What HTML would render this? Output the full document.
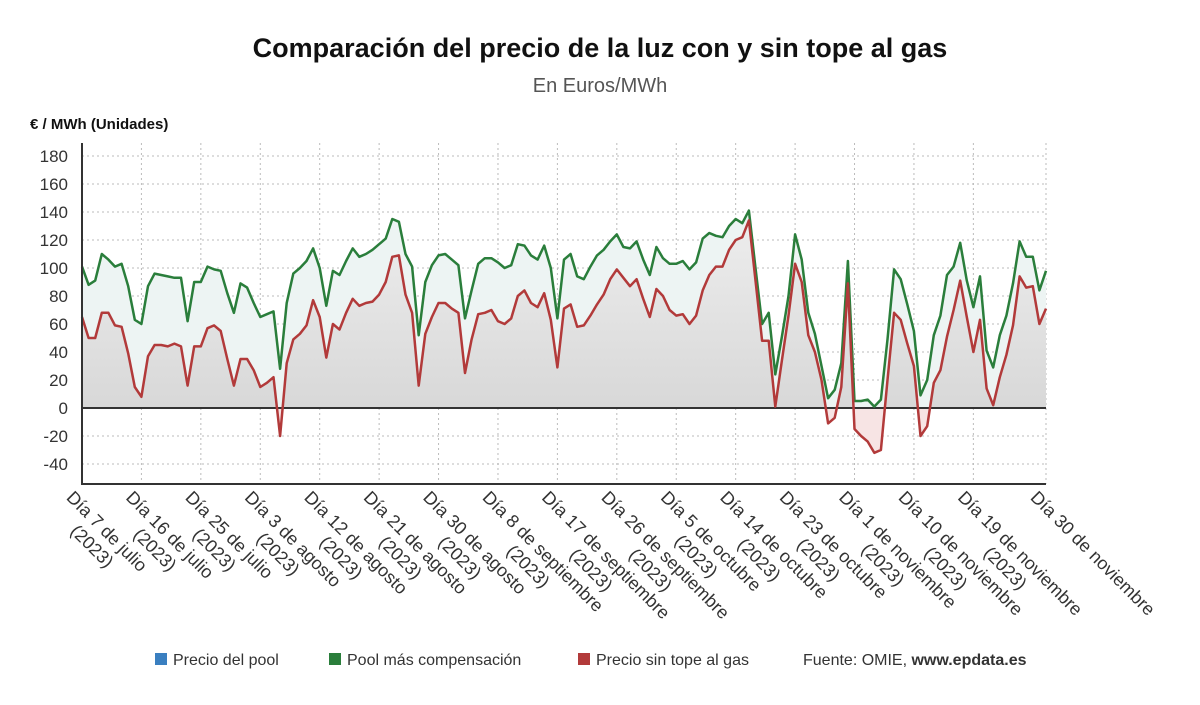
<!DOCTYPE html>
<html><head><meta charset="utf-8">
<style>
body{margin:0;background:#fff;font-family:"Liberation Sans",sans-serif;}
svg{display:block}
</style></head>
<body>
<svg id="chart" width="1200" height="705" xmlns="http://www.w3.org/2000/svg">
<defs>
<linearGradient id="gg" gradientUnits="userSpaceOnUse" x1="0" y1="156" x2="0" y2="408">
<stop offset="0" stop-color="#f4f4f4"/><stop offset="1" stop-color="#d8d8d8"/></linearGradient>
<clipPath id="neg"><rect x="82" y="408" width="970" height="80"/></clipPath>
<clipPath id="pos"><rect x="82" y="100" width="970" height="308"/></clipPath>
</defs>
<text x="600" y="57" text-anchor="middle" font-size="27" font-weight="bold" fill="#111">Comparación del precio de la luz con y sin tope al gas</text>
<text x="600" y="92" text-anchor="middle" font-size="20" fill="#555">En Euros/MWh</text>
<text x="30" y="129" font-size="15" font-weight="bold" fill="#111">€ / MWh (Unidades)</text>
<g id="grid"></g>
<g id="areas"></g>
<g id="lines"></g>
<g id="axes"></g>
<g id="xlabels"></g>
<g font-size="16" fill="#333">
<rect x="155" y="653" width="12" height="12" fill="#3a7fc0"/>
<text x="173" y="665">Precio del pool</text>
<rect x="329" y="653" width="12" height="12" fill="#2a7e3b"/>
<text x="347" y="665">Pool más compensación</text>
<rect x="578" y="653" width="12" height="12" fill="#b23a3a"/>
<text x="596" y="665">Precio sin tope al gas</text>
<text x="803" y="665">Fuente: OMIE, <tspan font-weight="bold">www.epdata.es</tspan></text>
</g>
</svg>
<script>
const greenValues=[101,88,91,110,106,101,103,87,63,60,87,96,95,94,93,93,62,90,90,101,99,98,82,68,89,86,75,65,67,69,28,75,96,100,105,114,100,
73,98,95,105,114,108,110,113,117,121,135,133,110,101,52,90,102,109,110,106,102,64,84,103,107,107,104,100,102,117,116,109,106,116,100,64,
106,110,94,92,101,109,113,119,124,115,114,119,106,95,115,107,103,103,105,99,104,121,125,123,122,130,135,132,141,100,60,68,24,51,80,124,106,68,
53,30,7,13,32,105,5,5,6,1,6,49,99,92,74,55,9,20,52,66,95,101,118,91,72,94,41,29,52,66,89,119,108,108,84,98];
const redValues=[65,50,50,68,68,59,58,39,15,8,37,45,45,44,46,44,16,44,44,57,59,55,35,16,35,35,27,15,18,22,-20,32,49,53,59,77,65,
36,60,56,68,78,73,75,76,81,90,108,109,81,68,16,53,65,75,75,71,68,25,49,67,68,70,62,60,64,80,84,75,72,82,63,29,
71,74,58,59,66,74,81,92,99,93,87,92,78,65,85,80,70,66,67,60,66,84,95,101,101,113,120,122,134,91,48,48,1,34,66,103,90,52,
40,20,-11,-7,15,89,-15,-20,-24,-32,-30,20,68,63,46,30,-20,-13,18,27,51,70,91,65,40,63,14,2,22,38,59,94,86,87,60,71];
const yTicks=[-40,-20,0,20,40,60,80,100,120,140,160,180];
const xTickDays=[0,9,18,27,36,45,54,63,72,81,90,99,108,117,126,135,146];
const xTickLabels=["Día 7 de julio","Día 16 de julio","Día 25 de julio","Día 3 de agosto","Día 12 de agosto","Día 21 de agosto","Día 30 de agosto","Día 8 de septiembre","Día 17 de septiembre","Día 26 de septiembre","Día 5 de octubre","Día 14 de octubre","Día 23 de octubre","Día 1 de noviembre","Día 10 de noviembre","Día 19 de noviembre","Día 30 de noviembre"];

const NS="http://www.w3.org/2000/svg";
const X0=82,X1=1046,Y0=408,PX=1.4,NDAYS=146;
const xs=i=>X0+(X1-X0)*i/NDAYS;
const ys=v=>Y0-v*PX;
function mk(tag,attrs,parent){const e=document.createElementNS(NS,tag);for(const k in attrs)e.setAttribute(k,attrs[k]);parent.appendChild(e);return e;}
const grid=document.getElementById('grid'),areas=document.getElementById('areas'),lines=document.getElementById('lines'),axes=document.getElementById('axes'),xl=document.getElementById('xlabels');
yTicks.forEach(v=>{
  if(v!==0){const l=mk('line',{x1:X0,x2:X1,y1:ys(v),y2:ys(v),stroke:'#bbb','stroke-dasharray':'2,3'},grid);
  
  }
  const t=mk('text',{x:68,y:ys(v)+6,'text-anchor':'end','font-size':17,fill:'#333'},axes);
  t.textContent=v;
  
  
});
xTickDays.forEach(d=>{
  const l=mk('line',{x1:xs(d),x2:xs(d),y1:143,y2:484,stroke:'#bbb','stroke-dasharray':'2,3'},grid);
  
  
});
function pts(arr){return arr.map((v,i)=>xs(i).toFixed(1)+','+ys(v).toFixed(1)).join(' ');}
const n=greenValues.length-1;
const ga=mk('polygon',{points:xs(0)+','+Y0+' '+pts(greenValues)+' '+xs(n)+','+Y0,fill:'#edf4f3','clip-path':'url(#pos)'},areas);


const rp=xs(0)+','+Y0+' '+pts(redValues)+' '+xs(n)+','+Y0;
const ra=mk('polygon',{points:rp,fill:'url(#gg)','clip-path':'url(#pos)'},areas);


const rn=mk('polygon',{points:rp,fill:'#f7e4e4','clip-path':'url(#neg)'},areas);


const z=mk('line',{x1:X0,x2:X1,y1:Y0,y2:Y0,stroke:'#333','stroke-width':2},lines);


const gl=mk('polyline',{points:pts(greenValues),fill:'none',stroke:'#2a7e3b','stroke-width':2.5,'stroke-linejoin':'round'},lines);


const rl=mk('polyline',{points:pts(redValues),fill:'none',stroke:'#b23a3a','stroke-width':2.5,'stroke-linejoin':'round'},lines);


const ya=mk('line',{x1:X0,x2:X0,y1:143,y2:485,stroke:'#333','stroke-width':2},axes);


const xa=mk('line',{x1:X0,x2:X1,y1:484,y2:484,stroke:'#333','stroke-width':2},axes);


xTickDays.forEach((d,k)=>{
  const g=mk('g',{transform:'translate('+(xs(d)-8)+',490) rotate(45)'},xl);
  
  
  const t1=mk('text',{x:0,y:12,'font-size':18,fill:'#333'},g);
  t1.textContent=xTickLabels[k];
  if(k<xTickDays.length-1){
    const L=t1.getComputedTextLength();
    const t2=mk('text',{x:L/2,y:33,'font-size':18,fill:'#333','text-anchor':'middle'},g);
    t2.textContent='(2023)';
  }
});
</script>
</body></html>
